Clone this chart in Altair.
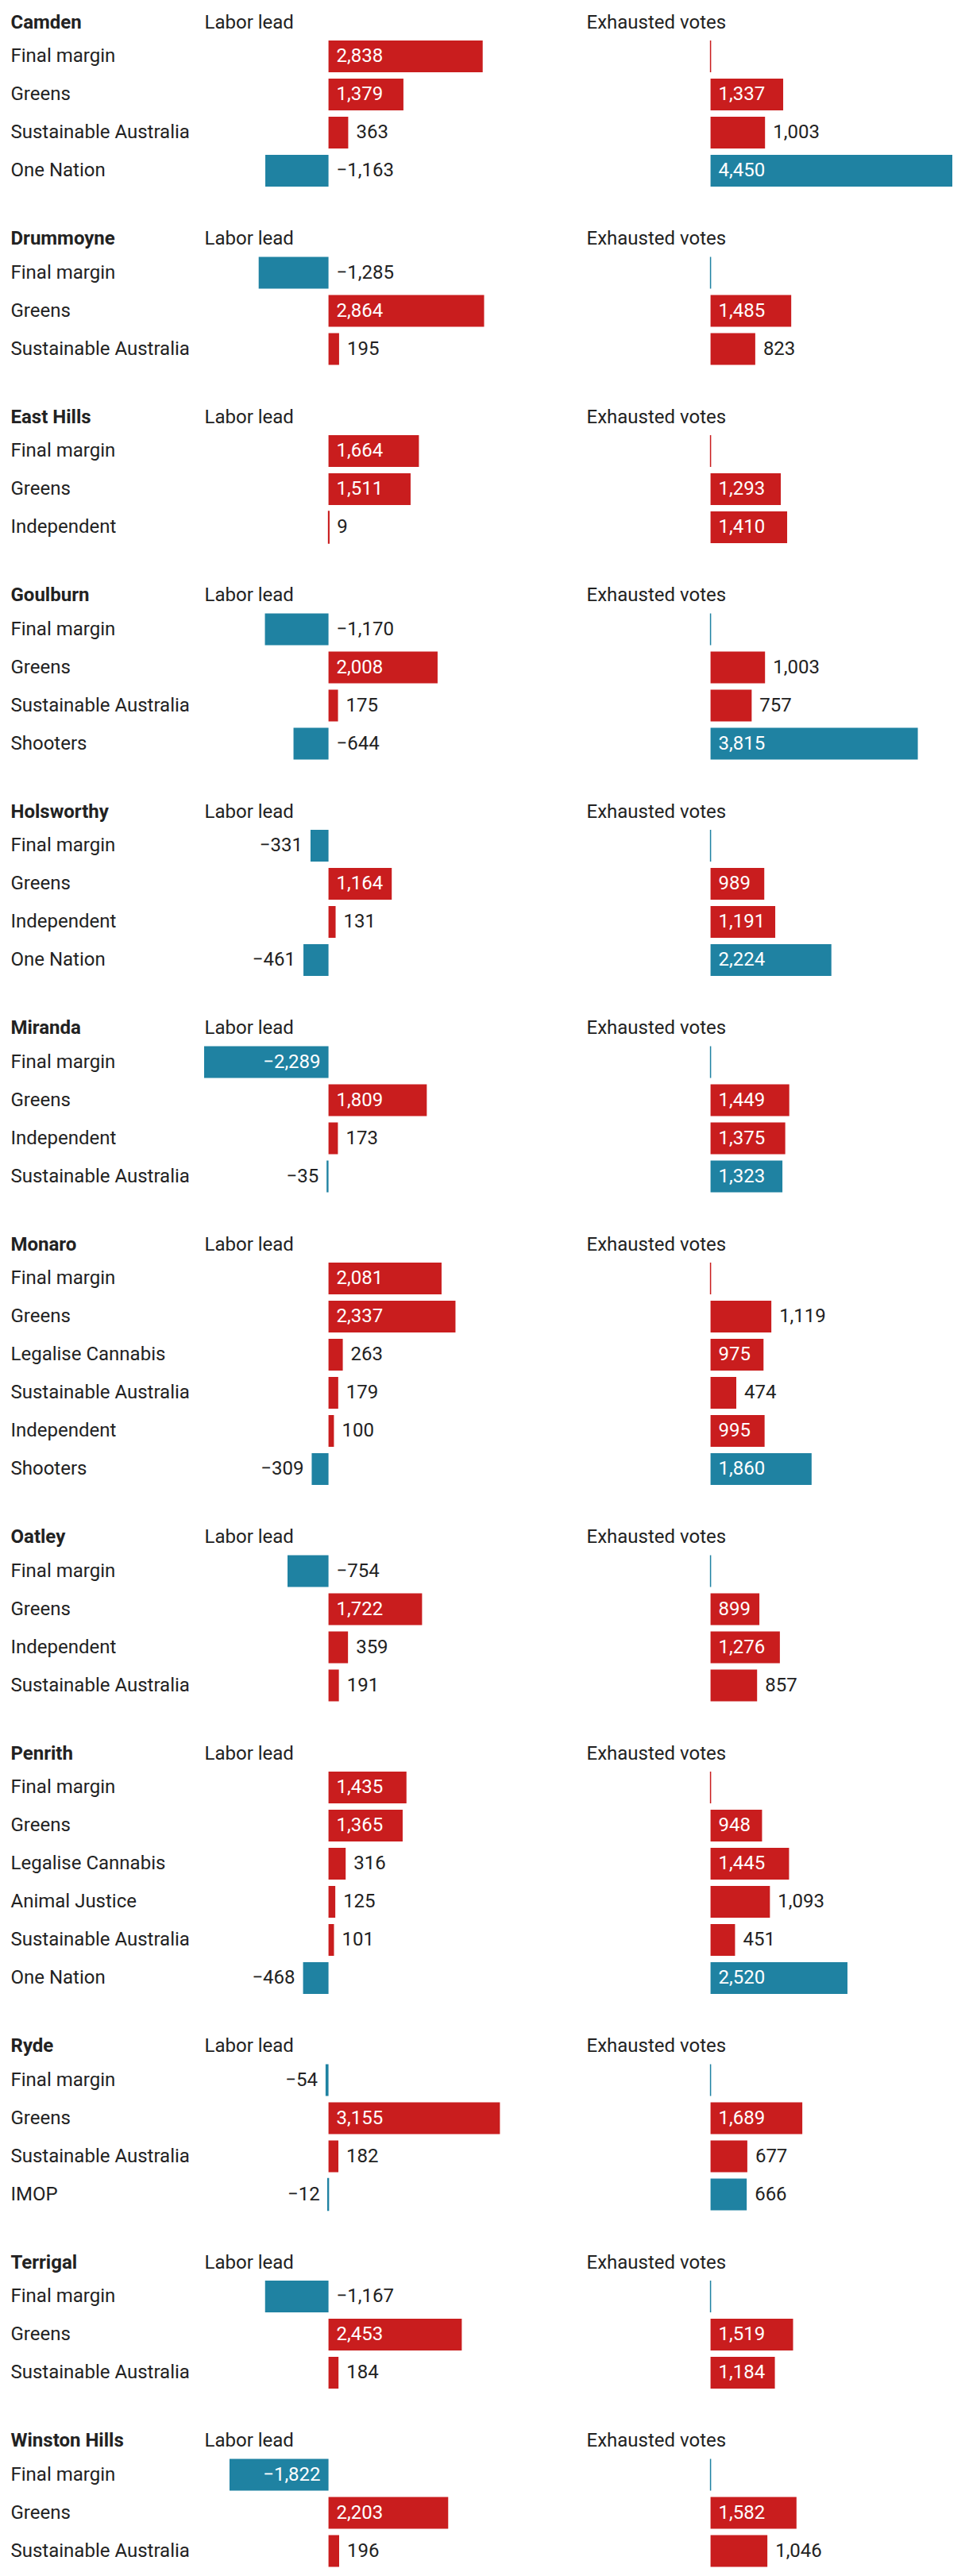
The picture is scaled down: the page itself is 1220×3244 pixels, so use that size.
import altair as alt
import pandas as pd

# ---------------- data ----------------
SEATS = ["Camden", "Drummoyne", "East Hills", "Goulburn", "Holsworthy", "Miranda",
         "Monaro", "Oatley", "Penrith", "Ryde", "Terrigal", "Winston Hills"]

camden_parties = ["Final margin", "Greens", "Sustainable Australia", "One Nation"]
camden_lead = [2838, 1379, 363, -1163]
camden_exhausted = [0, 1337, 1003, 4450]

drummoyne_parties = ["Final margin", "Greens", "Sustainable Australia"]
drummoyne_lead = [-1285, 2864, 195]
drummoyne_exhausted = [0, 1485, 823]

easthills_parties = ["Final margin", "Greens", "Independent"]
easthills_lead = [1664, 1511, 9]
easthills_exhausted = [0, 1293, 1410]

goulburn_parties = ["Final margin", "Greens", "Sustainable Australia", "Shooters"]
goulburn_lead = [-1170, 2008, 175, -644]
goulburn_exhausted = [0, 1003, 757, 3815]

holsworthy_parties = ["Final margin", "Greens", "Independent", "One Nation"]
holsworthy_lead = [-331, 1164, 131, -461]
holsworthy_exhausted = [0, 989, 1191, 2224]

miranda_parties = ["Final margin", "Greens", "Independent", "Sustainable Australia"]
miranda_lead = [-2289, 1809, 173, -35]
miranda_exhausted = [0, 1449, 1375, 1323]

monaro_parties = ["Final margin", "Greens", "Legalise Cannabis", "Sustainable Australia",
                  "Independent", "Shooters"]
monaro_lead = [2081, 2337, 263, 179, 100, -309]
monaro_exhausted = [0, 1119, 975, 474, 995, 1860]

oatley_parties = ["Final margin", "Greens", "Independent", "Sustainable Australia"]
oatley_lead = [-754, 1722, 359, 191]
oatley_exhausted = [0, 899, 1276, 857]

penrith_parties = ["Final margin", "Greens", "Legalise Cannabis", "Animal Justice",
                   "Sustainable Australia", "One Nation"]
penrith_lead = [1435, 1365, 316, 125, 101, -468]
penrith_exhausted = [0, 948, 1445, 1093, 451, 2520]

ryde_parties = ["Final margin", "Greens", "Sustainable Australia", "IMOP"]
ryde_lead = [-54, 3155, 182, -12]
ryde_exhausted = [0, 1689, 677, 666]

terrigal_parties = ["Final margin", "Greens", "Sustainable Australia"]
terrigal_lead = [-1167, 2453, 184]
terrigal_exhausted = [0, 1519, 1184]

winstonhills_parties = ["Final margin", "Greens", "Sustainable Australia"]
winstonhills_lead = [-1822, 2203, 196]
winstonhills_exhausted = [0, 1582, 1046]

BLOCKS = {
    "Camden": (camden_parties, camden_lead, camden_exhausted),
    "Drummoyne": (drummoyne_parties, drummoyne_lead, drummoyne_exhausted),
    "East Hills": (easthills_parties, easthills_lead, easthills_exhausted),
    "Goulburn": (goulburn_parties, goulburn_lead, goulburn_exhausted),
    "Holsworthy": (holsworthy_parties, holsworthy_lead, holsworthy_exhausted),
    "Miranda": (miranda_parties, miranda_lead, miranda_exhausted),
    "Monaro": (monaro_parties, monaro_lead, monaro_exhausted),
    "Oatley": (oatley_parties, oatley_lead, oatley_exhausted),
    "Penrith": (penrith_parties, penrith_lead, penrith_exhausted),
    "Ryde": (ryde_parties, ryde_lead, ryde_exhausted),
    "Terrigal": (terrigal_parties, terrigal_lead, terrigal_exhausted),
    "Winston Hills": (winstonhills_parties, winstonhills_lead, winstonhills_exhausted),
}

# ---------------- style ----------------
RED = "#c91d1e"
BLUE = "#1f82a2"
TXT = "#222222"
FONT = "Roboto"
FS = 24
W = 461
STEP = 48

all_vals = [v for s in SEATS for v in BLOCKS[s][1] + BLOCKS[s][2]]
XMIN, XMAX = min(all_vals), max(all_vals)
PX = W / (XMAX - XMIN)


def text_width(v):
    s = f"{abs(v):,}"
    w = sum(0.5615 * FS if c.isdigit() else 0.196 * FS for c in s)
    if v < 0:
        w += 0.555 * FS
    return w


def placement(v, is_zero_row):
    if is_zero_row:
        return "none"
    fits = abs(v) * PX >= text_width(v) + 20
    if v >= 0:
        return "in_pos" if fits else "out_pos"
    if fits:
        return "in_neg"
    return "zero_neg" if v <= -500 else "out_neg"


def panel(df, field, header, seat, parties, show_y):
    xaxis = alt.Axis(orient="top", title=header, labels=False, ticks=False, domain=False,
                     grid=False, titleX=0, titleY=-12, titleAlign="left", titleAnchor="start",
                     titleBaseline="alphabetic", titleFontWeight="normal", titleFontSize=FS,
                     titleColor=TXT, titleFont=FONT)
    xscale = alt.Scale(domain=[XMIN, XMAX], nice=False, zero=False)
    if show_y:
        yaxis = alt.Axis(title=seat, labelAlign="left", labelPadding=244, labelFontSize=FS,
                         labelColor=TXT, labelFont=FONT, labelLimit=400, ticks=False,
                         domain=False, titleAngle=0, titleX=-244, titleY=-12,
                         titleAlign="left", titleBaseline="alphabetic", titleFontSize=FS,
                         titleFontWeight="bold", titleColor=TXT, titleFont=FONT)
    else:
        yaxis = None
    y = alt.Y("party:N", sort=parties, axis=yaxis,
              scale=alt.Scale(paddingInner=1 / 6, paddingOuter=1 / 12))
    cscale = alt.Scale(domain=["pos", "neg"], range=[RED, BLUE])
    base = alt.Chart(df)
    bars = base.mark_bar().encode(
        x=alt.X(f"{field}:Q", scale=xscale, axis=xaxis),
        x2=alt.datum(0),
        y=y,
        color=alt.Color("sign:N", scale=cscale, legend=None),
        stroke=alt.Stroke("sign:N", scale=cscale, legend=None),
        strokeWidth=alt.condition(f"abs(datum['{field}']) < 25", alt.value(1.5), alt.value(0)),
    )
    layers = [bars]
    specs = [
        ("in_pos", "zero", "left", 10, "white"),
        ("in_neg", "zero", "right", -10, "white"),
        ("out_pos", field, "left", 10, TXT),
        ("out_neg", field, "right", -10, TXT),
        ("zero_neg", "zero", "left", 10, TXT),
    ]
    pcol = f"pos_{field}"
    for pos, xf, align, dx, col in specs:
        sub = df[df[pcol] == pos]
        if len(sub) == 0:
            continue
        layers.append(
            alt.Chart(sub).mark_text(align=align, baseline="middle", dx=dx, fontSize=FS,
                                     font=FONT, color=col).encode(
                x=alt.X(f"{xf}:Q", scale=xscale, axis=xaxis),
                y=y,
                text=alt.Text(f"{field}:Q", format=","),
            )
        )
    return alt.layer(*layers).properties(width=W, height=alt.Step(STEP))


blocks = []
for seat in SEATS:
    parties, lead, exh = BLOCKS[seat]
    df = pd.DataFrame({"party": parties, "lead": lead, "exh": exh})
    df["zero"] = 0
    df["sign"] = ["pos" if v >= 0 else "neg" for v in lead]
    df["pos_lead"] = [placement(v, False) for v in lead]
    df["pos_exh"] = [placement(v, p == "Final margin") for v, p in zip(exh, parties)]
    left = panel(df, "lead", "Labor lead", seat, parties, True)
    right = panel(df, "exh", "Exhausted votes", seat, parties, False)
    blocks.append(alt.hconcat(left, right, spacing=20))

chart = (
    alt.vconcat(*blocks, spacing=49.5, padding={"left": 5, "top": 8, "right": 5, "bottom": 5})
    .configure(font=FONT)
    .configure_view(stroke=None)
)

chart.save("out.html", embed_options={"renderer": "svg", "actions": False})
